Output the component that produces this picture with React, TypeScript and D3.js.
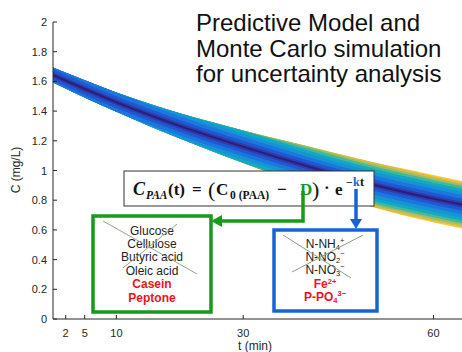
import React from "react";
import * as d3 from "d3";

// Monte Carlo envelope
const times = [0, 10, 20, 30, 40, 50, 60, 65];
const meanConc = [1.643, 1.46, 1.3, 1.16, 1.03, 0.91, 0.81, 0.765];
const spread = [0.05, 0.065, 0.085, 0.11, 0.135, 0.15, 0.16, 0.16];

const yTicks = [0, 0.2, 0.4, 0.6, 0.8, 1, 1.2, 1.4, 1.6, 1.8, 2];
const xTicks = [2, 5, 10, 30, 60];

const titleLines = ["Predictive Model and", "Monte Carlo simulation", "for uncertainty analysis"];
const organics = ["Glucose", "Cellulose", "Butyric acid", "Oleic acid"];
const organicsKept = ["Casein", "Peptone"];

// parula-like colours, outer deviation first
const levels = [
  { d: 0.165, color: "#fbc93a" },
  { d: 0.15, color: "#d9bb4c" },
  { d: 0.138, color: "#96c063" },
  { d: 0.125, color: "#45b898" },
  { d: 0.108, color: "#12aac2" },
  { d: 0.088, color: "#1594d6" },
  { d: 0.065, color: "#1a77de" },
  { d: 0.04, color: "#2158d2" },
  { d: 0.02, color: "#2c3eae" },
];

const W = 462;
const H = 352;
const font = "'Liberation Sans', Arial, sans-serif";
const serif = "'Liberation Serif', 'Times New Roman', serif";
const axisColor = "#262626";
const green = "#17991b";
const blue = "#1664d4";
const red = "#e8141c";

export default function App() {
  const x = d3.scaleLinear().domain([0, 64.5]).range([53, 462]);
  const y = d3.scaleLinear().domain([0, 2]).range([319, 22]);

  const rows = times.map((t, i) => ({ t, m: meanConc[i], s: spread[i] }));

  const band = (d: number) =>
    d3
      .area<{ t: number; m: number; s: number }>()
      .x((r) => x(r.t))
      .y0((r) => y(r.m - Math.min(d, r.s)))
      .y1((r) => y(r.m + Math.min(d, r.s)))
      .curve(d3.curveMonotoneX)(rows) as string;

  const centre = d3
    .line<{ t: number; m: number }>()
    .x((r) => x(r.t))
    .y((r) => y(r.m))
    .curve(d3.curveMonotoneX)(rows) as string;

  const lineGap = 13.4;

  return (
    <svg
      width={W}
      height={H}
      style={{ position: "absolute", left: 0, top: 0, background: "#fff" }}
    >
      <defs>
        <clipPath id="plot">
          <rect x={53} y={0} width={W - 53} height={319} />
        </clipPath>
      </defs>

      {/* band */}
      <g clipPath="url(#plot)">
        {levels.map((l) => (
          <path key={l.d} d={band(l.d)} fill={l.color} />
        ))}
        <path d={centre} fill="none" stroke="#2d1e7c" strokeWidth={2.2} />
      </g>

      {/* axes */}
      <g fontFamily={font} fontSize={11} fill={axisColor}>
        <line x1={53} x2={53} y1={y(2)} y2={y(0)} stroke={axisColor} strokeWidth={1} />
        <line x1={53} x2={W} y1={y(0)} y2={y(0)} stroke={axisColor} strokeWidth={1} />
        {yTicks.map((v) => (
          <g key={v}>
            <line x1={53} x2={57} y1={y(v)} y2={y(v)} stroke={axisColor} />
            <text x={47} y={y(v) + 4} textAnchor="end">
              {String(v)}
            </text>
          </g>
        ))}
        {xTicks.map((v) => (
          <g key={v}>
            <line x1={x(v)} x2={x(v)} y1={319} y2={315} stroke={axisColor} />
            <text x={x(v)} y={337} textAnchor="middle">
              {v}
            </text>
          </g>
        ))}
        <text transform="translate(20,170) rotate(-90)" textAnchor="middle" fontSize={12}>
          C (mg/L)
        </text>
        <text x={255} y={350} textAnchor="middle" fontSize={12}>
          t (min)
        </text>
      </g>

      {/* title */}
      <g fontFamily={font} fontSize={24} fill="#111">
        {titleLines.map((s, i) => (
          <text key={s} x={196} y={31 + i * 25.7}>
            {s}
          </text>
        ))}
      </g>

      {/* formula */}
      <rect x={124} y={171} width={250} height={35} fill="#fff" stroke="#333" strokeWidth={1} />
      <g fontFamily={serif} fontWeight="bold" fill="#111">
        <text x={133} y={195} fontSize={18} fontStyle="italic">C</text>
        <text x={146} y={199} fontSize={11.5} fontStyle="italic">PAA</text>
        <text x={168} y={195} fontSize={17}>(t)</text>
        <text x={192} y={195} fontSize={17}>=</text>
        <text x={208} y={197} fontSize={22} fontWeight="normal">(</text>
        <text x={216} y={195} fontSize={17}>C</text>
        <text x={230} y={199} fontSize={11.5}>0 (PAA)</text>
        <text x={277} y={195} fontSize={17}>−</text>
        <text x={300} y={195} fontSize={17} fill={green}>D</text>
        <text x={312} y={197} fontSize={22} fontWeight="normal">)</text>
        <text x={324} y={193} fontSize={17}>·</text>
        <text x={335} y={195} fontSize={17}>e</text>
        <text x={346} y={186} fontSize={11.5}>−</text>
        <text x={353} y={186} fontSize={12} fill={blue}>k</text>
        <text x={360} y={186} fontSize={12}>t</text>
      </g>

      {/* arrows */}
      <path d="M303,191 V221 H220" fill="none" stroke={green} strokeWidth={3.5} />
      <polygon points="211,221 222,215 222,227" fill={green} />
      <line x1={356} y1={189} x2={356} y2={221} stroke={blue} strokeWidth={3.5} />
      <polygon points="356,229 350,219 362,219" fill={blue} />

      {/* green box */}
      <rect x={93} y={216} width={118} height={96} fill="#fff" stroke={green} strokeWidth={3.5} />
      <g fontFamily={font} fontSize={12} textAnchor="middle">
        {organics.map((s, i) => (
          <text key={s} x={152} y={234.5 + i * lineGap} fill="#222">
            {s}
          </text>
        ))}
        {organicsKept.map((s, i) => (
          <text
            key={s}
            x={152}
            y={234.5 + (i + 4) * lineGap}
            fill={red}
            fontWeight="bold"
          >
            {s}
          </text>
        ))}
      </g>
      <line x1={103} y1={221} x2={197} y2={274} stroke="#9aa68a" strokeWidth={1} />
      <line x1={177} y1={224} x2={123} y2={268} stroke="#9aa68a" strokeWidth={1} />

      {/* blue box */}
      <rect x={274} y={230} width={103} height={81} fill="#fff" stroke={blue} strokeWidth={3.5} />
      <g fontFamily={font} fontSize={12} textAnchor="middle">
        <text x={325} y={247.5} fill="#222">
          N-NH<tspan fontSize={7.5} dy={2}>4</tspan>
          <tspan fontSize={7.5} dy={-7}>+</tspan>
        </text>
        <text x={325} y={247.5 + lineGap} fill="#222">
          N-NO<tspan fontSize={7.5} dy={2}>2</tspan>
          <tspan fontSize={7.5} dy={-7}>−</tspan>
        </text>
        <text x={325} y={247.5 + 2 * lineGap} fill="#222">
          N-NO<tspan fontSize={7.5} dy={2}>3</tspan>
          <tspan fontSize={7.5} dy={-7}>−</tspan>
        </text>
        <text x={325} y={247.5 + 3 * lineGap} fill={red} fontWeight="bold">
          Fe<tspan fontSize={7.5} dy={-4}>2+</tspan>
        </text>
        <text x={325} y={247.5 + 4 * lineGap} fill={red} fontWeight="bold">
          P-PO<tspan fontSize={7.5} dy={2}>4</tspan>
          <tspan fontSize={7.5} dy={-7}>3−</tspan>
        </text>
      </g>
      <line x1={283} y1={235} x2={351} y2={278} stroke="#8f9a84" strokeWidth={1} />
      <line x1={363} y1={235} x2={292} y2={272} stroke="#8f9a84" strokeWidth={1} />
    </svg>
  );
}
